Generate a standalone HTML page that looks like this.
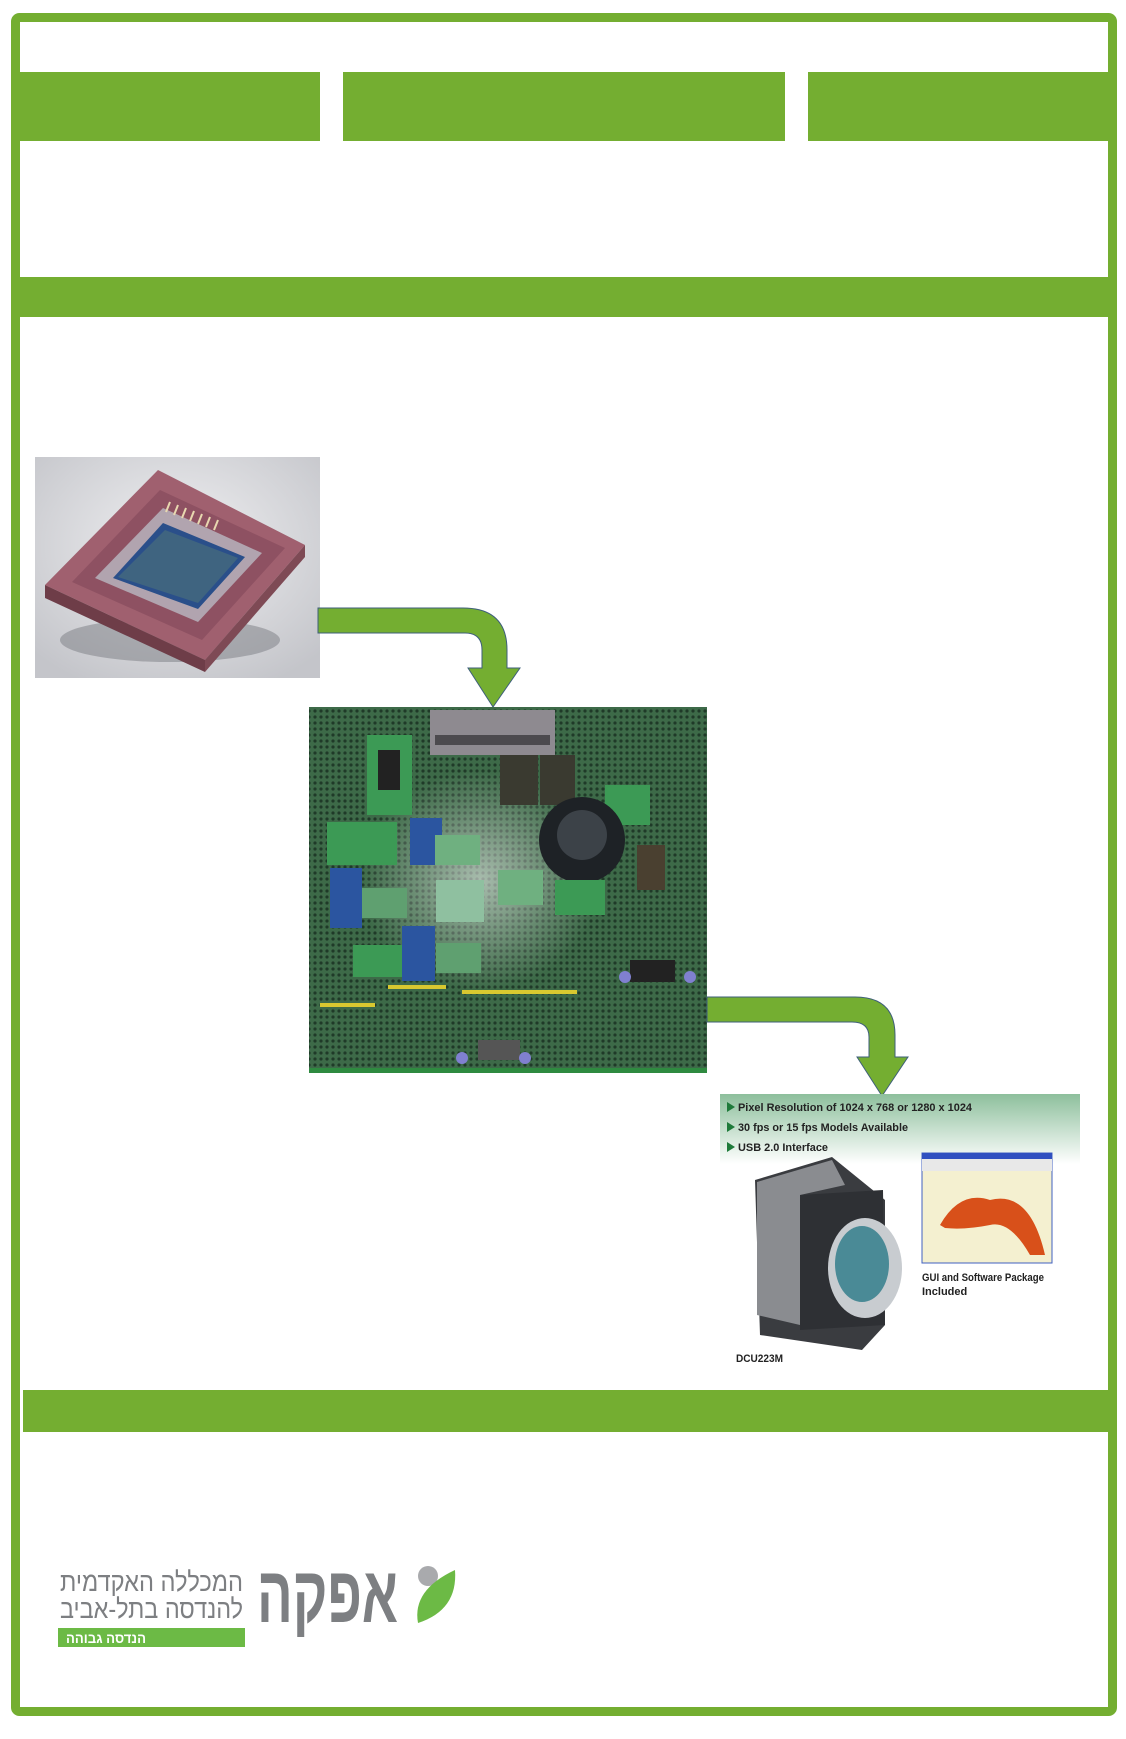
<!DOCTYPE html>
<html><head><meta charset="utf-8"><style>
html,body{margin:0;padding:0;background:#fff}
svg{display:block}
</style></head><body>
<svg width="1126" height="1739" viewBox="0 0 1126 1739" xmlns="http://www.w3.org/2000/svg">
<defs>
<pattern id="holes" width="6" height="6" patternUnits="userSpaceOnUse">
<rect width="6" height="6" fill="#3d6a48"/>
<circle cx="3" cy="3" r="1.6" fill="#1f3a28"/>
</pattern>
<linearGradient id="cg" x1="0" y1="0" x2="0" y2="1">
<stop offset="0" stop-color="#8dbf9c"/><stop offset="1" stop-color="#ffffff"/>
</linearGradient>
<radialGradient id="sg" cx="0.5" cy="0.4" r="0.7">
<stop offset="0" stop-color="#f0f0f2"/><stop offset="1" stop-color="#c4c5ca"/>
</radialGradient>
<radialGradient id="glare" cx="0.5" cy="0.5" r="0.5">
<stop offset="0" stop-color="#fff" stop-opacity="0.55"/><stop offset="1" stop-color="#fff" stop-opacity="0"/>
</radialGradient>
</defs>

<!-- header bars -->
<rect x="20" y="72" width="300" height="69" fill="#74ae31"/>
<rect x="343" y="72" width="442" height="69" fill="#74ae31"/>
<rect x="808" y="72" width="300" height="69" fill="#74ae31"/>
<!-- band -->
<rect x="20" y="277" width="1088" height="40" fill="#74ae31"/>
<rect x="23" y="1390" width="1085" height="42" fill="#74ae31"/>
<!-- outer frame -->
<rect x="15.5" y="17.5" width="1097" height="1694" rx="4" fill="none" stroke="#74ae31" stroke-width="9"/>

<!-- sensor image -->
<rect x="35" y="457" width="285" height="221" fill="url(#sg)"/>
<ellipse cx="170" cy="640" rx="110" ry="22" fill="#7a7c82" opacity="0.5"/>
<polygon points="45,585 158,470 305,545 205,660" fill="#a0606f"/>
<polygon points="45,585 205,660 205,672 45,598" fill="#6e3d48"/>
<polygon points="205,660 305,545 305,557 205,672" fill="#7e4a55"/>
<polygon points="72,582 160,490 285,548 202,640" fill="#8e5162"/>
<polygon points="95,578 163,508 262,553 198,622" fill="#c0c8d0" opacity="0.7"/>
<polygon points="113,578 163,523 245,557 198,609" fill="#2a4f8a"/>
<polygon points="118,577 165,530 238,558 198,603" fill="#3f6480"/>
<g stroke="#e8d8b0" stroke-width="2">
<line x1="170" y1="502" x2="166" y2="512"/><line x1="178" y1="505" x2="174" y2="515"/><line x1="186" y1="508" x2="182" y2="518"/><line x1="194" y1="511" x2="190" y2="521"/><line x1="202" y1="514" x2="198" y2="524"/><line x1="210" y1="517" x2="206" y2="527"/><line x1="218" y1="520" x2="214" y2="530"/>
</g>

<!-- arrow 1 -->
<path d="M318,608 L463,608 Q507,608 507,650 L507,668 L520,668 L493,707 L468,668 L482,668 L482,650 Q482,633 465,633 L318,633 Z" fill="#74ae31" stroke="#3e5f7a" stroke-width="1"/>

<!-- board -->
<rect x="309" y="707" width="398" height="366" fill="url(#holes)"/>
<ellipse cx="480" cy="880" rx="120" ry="110" fill="url(#glare)"/>
<rect x="430" y="710" width="125" height="45" fill="#8e8a90"/>
<rect x="435" y="735" width="115" height="10" fill="#4c4a4e"/>
<rect x="367" y="735" width="45" height="80" fill="#3c9a55"/>
<rect x="378" y="750" width="22" height="40" fill="#222"/>
<rect x="327" y="822" width="70" height="43" fill="#3c9a55"/>
<rect x="410" y="818" width="32" height="47" fill="#2b55a0"/>
<rect x="435" y="835" width="45" height="30" fill="#6fb080"/>
<rect x="330" y="868" width="32" height="60" fill="#2b55a0"/>
<rect x="362" y="888" width="45" height="30" fill="#5fa070"/>
<rect x="436" y="880" width="48" height="42" fill="#8fc0a0"/>
<rect x="498" y="870" width="45" height="35" fill="#6fb080"/>
<rect x="353" y="945" width="50" height="32" fill="#3c9a55"/>
<rect x="402" y="926" width="33" height="55" fill="#2b55a0"/>
<rect x="436" y="943" width="45" height="30" fill="#5fa070"/>
<rect x="500" y="755" width="38" height="50" fill="#3a3a30"/>
<rect x="540" y="755" width="35" height="50" fill="#3a3a30"/>
<rect x="605" y="785" width="45" height="40" fill="#3c9a55"/>
<rect x="637" y="845" width="28" height="45" fill="#4a4030"/>
<circle cx="582" cy="840" r="43" fill="#1e2226"/>
<circle cx="582" cy="835" r="25" fill="#3c4248"/>
<rect x="555" y="880" width="50" height="35" fill="#3c9a55"/>
<rect x="630" y="960" width="45" height="22" fill="#222"/>
<circle cx="625" cy="977" r="6" fill="#8080d0"/><circle cx="690" cy="977" r="6" fill="#8080d0"/>
<rect x="320" y="1003" width="55" height="4" fill="#d8c830"/>
<rect x="388" y="985" width="58" height="4" fill="#d8c830"/>
<rect x="462" y="990" width="115" height="4" fill="#d8c830"/>
<rect x="478" y="1040" width="42" height="20" fill="#555"/>
<circle cx="462" cy="1058" r="6" fill="#8080d0"/><circle cx="525" cy="1058" r="6" fill="#8080d0"/>
<rect x="309" y="1068" width="398" height="5" fill="#2f8a40"/>

<!-- arrow 2 -->
<path d="M707,997 L855,997 Q895,997 895,1035 L895,1057 L908,1057 L882,1096 L857,1057 L869,1057 L869,1037 Q869,1022 852,1022 L707,1022 Z" fill="#74ae31" stroke="#3e5f7a" stroke-width="1"/>

<!-- camera image -->
<rect x="720" y="1094" width="360" height="70" fill="url(#cg)"/>
<g font-family="Liberation Sans, sans-serif" font-weight="bold" font-size="11" fill="#222">
<polygon points="727,1102 735,1107 727,1112" fill="#1e7a3a"/>
<text x="738" y="1111" textLength="234" lengthAdjust="spacingAndGlyphs">Pixel Resolution of 1024 x 768 or 1280 x 1024</text>
<polygon points="727,1122 735,1127 727,1132" fill="#1e7a3a"/>
<text x="738" y="1131" textLength="170" lengthAdjust="spacingAndGlyphs">30 fps or 15 fps Models Available</text>
<polygon points="727,1142 735,1147 727,1152" fill="#1e7a3a"/>
<text x="738" y="1151" textLength="90" lengthAdjust="spacingAndGlyphs">USB 2.0 Interface</text>
<text x="922" y="1281" textLength="122" lengthAdjust="spacingAndGlyphs">GUI and Software Package</text>
<text x="922" y="1295">Included</text>
<text x="736" y="1362" textLength="47" lengthAdjust="spacingAndGlyphs">DCU223M</text>
</g>
<polygon points="755,1180 832,1157 885,1200 885,1325 862,1350 760,1335" fill="#3a3c40"/>
<polygon points="757,1182 832,1160 845,1185 800,1195 800,1325 757,1315" fill="#8a8c90"/>
<polygon points="800,1195 883,1190 885,1325 800,1330" fill="#2e3034"/>
<ellipse cx="865" cy="1268" rx="37" ry="50" fill="#c8ccd0"/>
<ellipse cx="862" cy="1264" rx="27" ry="38" fill="#4a8a96"/>
<rect x="922" y="1153" width="130" height="110" fill="#f4f0d0" stroke="#4060c0" stroke-width="1"/>
<rect x="922" y="1153" width="130" height="6" fill="#3050c0"/>
<rect x="922" y="1159" width="130" height="12" fill="#e8e8e8"/>
<path d="M940,1225 Q960,1190 990,1200 Q1030,1190 1045,1255 L1030,1255 Q1010,1220 990,1225 Q965,1230 945,1228 Z" fill="#d8501a"/>

<!-- logo -->
<g font-family="Liberation Sans, DejaVu Sans, sans-serif" fill="#7d7f82">
<text x="60" y="1591" font-size="27" textLength="183" lengthAdjust="spacingAndGlyphs">המכללה האקדמית</text>
<text x="60" y="1618" font-size="27" textLength="183" lengthAdjust="spacingAndGlyphs">להנדסה בתל-אביב</text>
<text x="257" y="1622" font-size="80" font-weight="bold" textLength="141" lengthAdjust="spacingAndGlyphs">אפקה</text>
</g>
<rect x="58" y="1628" width="187" height="19" fill="#6cba45"/>
<text x="66" y="1643" font-family="Liberation Sans, DejaVu Sans, sans-serif" font-size="14" font-weight="bold" fill="#fff" textLength="80" lengthAdjust="spacingAndGlyphs">הנדסה גבוהה</text>
<circle cx="428" cy="1576" r="10" fill="#a9aaad"/>
<path d="M418,1623 Q412,1590 455,1570 Q458,1610 418,1623 Z" fill="#6cba45"/>
</svg>
</body></html>
